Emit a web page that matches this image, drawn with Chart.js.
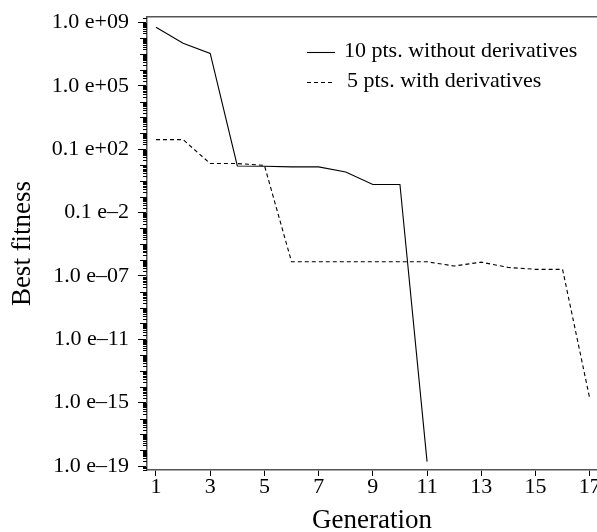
<!DOCTYPE html>
<html>
<head>
<meta charset="utf-8">
<script src="https://cdn.jsdelivr.net/npm/chart.js@4.4.0/dist/chart.umd.min.js"></script>
<style>
  html, body { margin: 0; padding: 0; background: #fff; overflow: hidden; }
</style>
</head>
<body>
<canvas id="fitnessChart" width="620" height="532"></canvas>
<script>
// generations and best fitness per run
const generationsA = [1, 2, 3, 4, 5, 6, 7, 8, 9, 10, 11];
const withoutDerivatives = [5.0e8, 4.9e7, 1.1e7, 0.87, 0.83, 0.76, 0.76, 0.36, 0.059, 0.059, 1.9e-19];

const generationsB = [1, 2, 3, 4, 5, 6, 7, 8, 9, 10, 11, 12, 13, 14, 15, 16, 17];
const withDerivatives = [40, 40, 1.23, 1.23, 0.95, 7.8e-7, 7.8e-7, 7.8e-7, 7.8e-7, 7.8e-7, 7.8e-7,
  4.2e-7, 7.4e-7, 3.4e-7, 2.6e-7, 2.6e-7, 1.9e-15];

const xTicks = [1, 3, 5, 7, 9, 11, 13, 15, 17];
const yTicks = [1e-19, 1e-15, 1e-11, 1e-7, 1e-3, 1e1, 1e5, 1e9];
const yTickLabels = ["1.0 e\u201319", "1.0 e\u201315", "1.0 e\u201311", "1.0 e\u201307",
  "0.1 e\u20132", "0.1 e+02", "1.0 e+05", "1.0 e+09"];

const serif = "'Liberation Serif', 'DejaVu Serif', serif";
Chart.defaults.font.family = serif;
Chart.defaults.color = "#000";

const labelByExp = {};
yTicks.forEach((v, i) => { labelByExp[Math.round(Math.log10(v))] = yTickLabels[i]; });

// short ticks between the labelled ones (log minor ticks)
const minorTicks = {
  id: "minorTicks",
  afterDraw(chart) {
    const { ctx, chartArea } = chart;
    const y = chart.scales.y;
    ctx.save();
    ctx.strokeStyle = "#000";
    ctx.lineWidth = 1;
    ctx.beginPath();
    for (let e = -20; e <= 9; e++) {
      for (let m = 1; m <= 9; m++) {
        const v = m * Math.pow(10, e);
        if (v < y.min || v > y.max) continue;
        if (m === 1 && labelByExp[e] !== undefined) continue;
        const len = m === 1 ? 7 : 4;
        const py = Math.round(y.getPixelForValue(v)) + 0.5;
        ctx.moveTo(chartArea.left - len, py);
        ctx.lineTo(chartArea.left, py);
      }
    }
    ctx.stroke();
    ctx.restore();
  }
};

const legendBox = {
  id: "legendBox",
  afterDatasetsDraw(chart) {
    const { ctx, chartArea } = chart;
    const rows = [{ dy: 35, tx: 197 }, { dy: 65, tx: 200 }];
    ctx.save();
    ctx.font = "22px " + serif;
    ctx.fillStyle = "#000";
    ctx.textBaseline = "middle";
    chart.data.datasets.forEach((ds, i) => {
      const yy = chartArea.top + rows[i].dy + 0.5;
      ctx.strokeStyle = ds.borderColor;
      ctx.lineWidth = ds.borderWidth;
      ctx.setLineDash(ds.borderDash || []);
      ctx.beginPath();
      ctx.moveTo(chartArea.left + 160, yy);
      ctx.lineTo(chartArea.left + 188, yy);
      ctx.stroke();
      ctx.fillText(ds.label, chartArea.left + rows[i].tx, yy - 1);
    });
    ctx.restore();
  }
};

const xMin = 0.668, xMax = 17.27;

new Chart(document.getElementById("fitnessChart"), {
  type: "line",
  data: {
    datasets: [
      {
        label: "10 pts. without derivatives",
        data: generationsA.map((g, i) => ({ x: g, y: withoutDerivatives[i] })),
        borderColor: "#000",
        borderWidth: 1.1,
        pointRadius: 0,
        tension: 0,
        fill: false
      },
      {
        label: "5 pts. with derivatives",
        data: generationsB.map((g, i) => ({ x: g, y: withDerivatives[i] })),
        borderColor: "#000",
        borderWidth: 1.1,
        borderDash: [4, 3],
        pointRadius: 0,
        tension: 0,
        fill: false
      }
    ]
  },
  options: {
    responsive: false,
    animation: false,
    layout: { padding: { top: 17, right: 23, left: 0, bottom: 0 } },
    plugins: { legend: { display: false }, tooltip: { enabled: false } },
    scales: {
      x: {
        type: "linear",
        min: xMin,
        max: xMax,
        afterBuildTicks: (s) => { s.ticks = xTicks.map((v) => ({ value: v })); },
        afterFit: (s) => { s.height = 62; s.paddingLeft = 0; s.paddingRight = 0; },
        grid: { drawOnChartArea: false, tickLength: 6, color: "#000" },
        border: { color: "#555", width: 1.5 },
        ticks: { font: { size: 22 }, padding: -2, autoSkip: false, maxRotation: 0, callback: (v) => String(v) },
        title: { display: true, text: "Generation", font: { size: 27 }, padding: { top: 0, bottom: -5 } }
      },
      x2: {
        type: "linear",
        position: "top",
        min: xMin,
        max: xMax,
        ticks: { display: false },
        grid: { drawOnChartArea: false, drawTicks: false },
        border: { color: "#555", width: 1.5 },
        afterFit: (s) => { s.height = 0; }
      },
      y: {
        type: "logarithmic",
        min: Math.pow(10, -19.25),
        max: Math.pow(10, 9.34),
        afterBuildTicks: (s) => { s.ticks = yTicks.map((v) => ({ value: v })); },
        afterFit: (s) => { s.width = 147; s.paddingTop = 0; s.paddingBottom = 0; },
        grid: { drawOnChartArea: false, tickLength: 9, color: "#000" },
        border: { color: "#555", width: 1.5 },
        ticks: {
          font: { size: 22 },
          padding: 9,
          autoSkip: false,
          callback: (v) => labelByExp[Math.round(Math.log10(v))] || ""
        },
        title: { display: true, text: "Best fitness", font: { size: 27 }, padding: { top: 7, bottom: 0 } }
      }
    }
  },
  plugins: [minorTicks, legendBox]
});
</script>
</body>
</html>
